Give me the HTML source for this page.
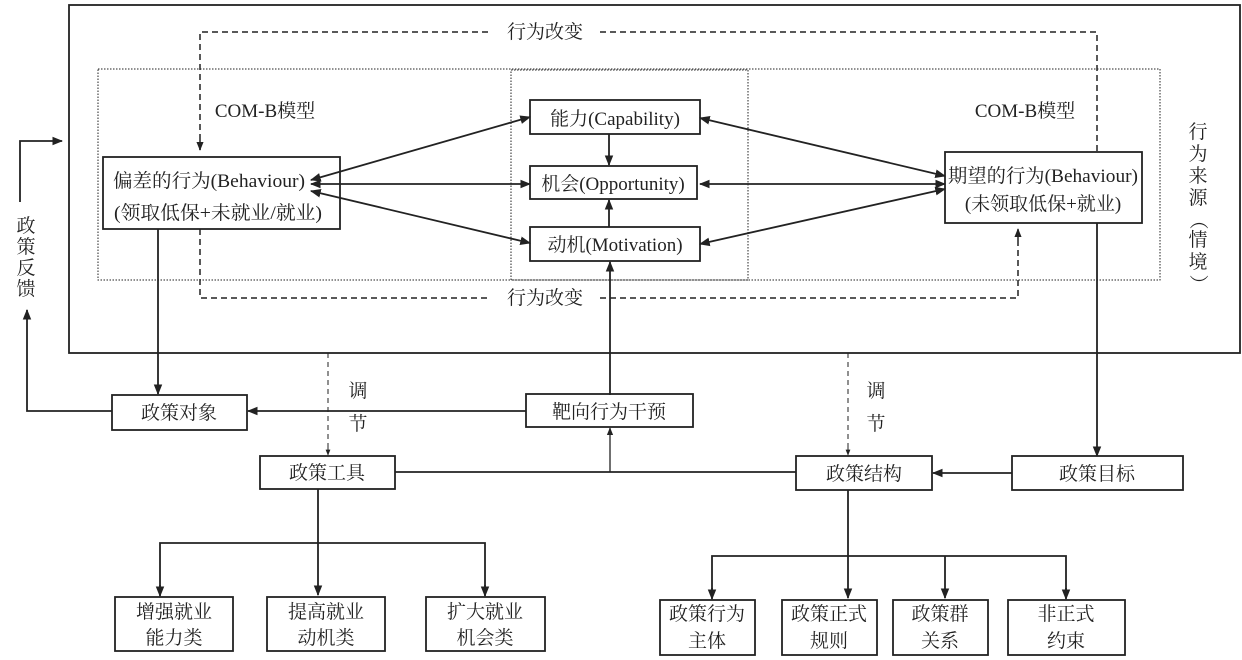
<!DOCTYPE html>
<html><head><meta charset="utf-8"><style>
html,body{margin:0;padding:0;background:#fff;}
svg{display:block;}
text{font-family:"Liberation Serif","Noto Serif CJK SC","Noto Sans CJK SC",serif;fill:#222;}
</style></head><body>
<svg width="1242" height="660" viewBox="0 0 1242 660" xmlns="http://www.w3.org/2000/svg">
<defs>
<marker id="a" viewBox="0 0 10 10" refX="9" refY="5" markerWidth="6" markerHeight="6" orient="auto-start-reverse"><path d="M0,1 L10,5 L0,9 z" fill="#222"/></marker>
</defs>
<g stroke="#222" fill="none" stroke-width="1.8">
<rect x="69" y="5" width="1171" height="348"/>
<rect x="98" y="69" width="1062" height="211" stroke-dasharray="1.5,1.5" stroke-width="1"/>
<rect x="511" y="70" width="237" height="210" stroke-dasharray="1.5,1.5" stroke-width="1"/>
<path d="M200,150 V32 H490 M600,32 H1097 V152" stroke-dasharray="6,4" stroke-width="1.5"/>
<path d="M200,140 V150" marker-end="url(#a)" stroke-width="1.5"/>
<path d="M200,229 V298 H490 M600,298 H1018 V230" stroke-dasharray="6,4" stroke-width="1.5"/>
<path d="M1018,240 V229" marker-end="url(#a)" stroke-width="1.5"/>
<rect x="103" y="157" width="237" height="72"/>
<rect x="530" y="100" width="170" height="34"/>
<rect x="530" y="166" width="167" height="33"/>
<rect x="530" y="227" width="170" height="34"/>
<rect x="945" y="152" width="197" height="71"/>
<path d="M311,180 L530,117" marker-start="url(#a)" marker-end="url(#a)"/>
<path d="M311,184 L530,184" marker-start="url(#a)" marker-end="url(#a)"/>
<path d="M311,191 L530,243" marker-start="url(#a)" marker-end="url(#a)"/>
<path d="M700,118 L945,176" marker-start="url(#a)" marker-end="url(#a)"/>
<path d="M700,184 L945,184" marker-start="url(#a)" marker-end="url(#a)"/>
<path d="M700,244 L945,189" marker-start="url(#a)" marker-end="url(#a)"/>
<path d="M609,134 V165" marker-end="url(#a)"/>
<path d="M609,227 V200" marker-end="url(#a)"/>
<path d="M610,395 V262" marker-end="url(#a)"/>
<path d="M158,229 V394" marker-end="url(#a)"/>
<path d="M1097,223 V456" marker-end="url(#a)"/>
<path d="M112,411 H27 V310" marker-end="url(#a)"/>
<path d="M20,202 V141 H62" marker-end="url(#a)"/>
<rect x="112" y="395" width="135" height="35"/>
<rect x="526" y="394" width="167" height="33"/>
<rect x="260" y="456" width="135" height="33"/>
<rect x="796" y="456" width="136" height="34"/>
<rect x="1012" y="456" width="171" height="34"/>
<path d="M526,411 H248" marker-end="url(#a)"/>
<path d="M328,353 V455" stroke-dasharray="5,4" stroke-width="1"/>
<path d="M328,448 V455" marker-end="url(#a)" stroke-width="1"/>
<path d="M848,353 V455" stroke-dasharray="5,4" stroke-width="1"/>
<path d="M848,448 V455" marker-end="url(#a)" stroke-width="1"/>
<path d="M395,472 H796"/>
<path d="M610,472 V428" marker-end="url(#a)" stroke-width="1.3"/>
<path d="M1012,473 H933" marker-end="url(#a)"/>
<path d="M318,489 V595" marker-end="url(#a)"/>
<path d="M160,595 V543 H485 V595" />
<path d="M160,585 V596" marker-end="url(#a)"/>
<path d="M485,585 V596" marker-end="url(#a)"/>
<rect x="115" y="597" width="118" height="54"/>
<rect x="267" y="597" width="118" height="54"/>
<rect x="426" y="597" width="119" height="54"/>
<path d="M848,490 V598" marker-end="url(#a)"/>
<path d="M712,598 V556 H1066 V598"/>
<path d="M945,556 V598" marker-end="url(#a)"/>
<path d="M712,588 V599" marker-end="url(#a)"/>
<path d="M1066,588 V599" marker-end="url(#a)"/>
<rect x="660" y="600" width="95" height="55"/>
<rect x="782" y="600" width="95" height="55"/>
<rect x="893" y="600" width="95" height="55"/>
<rect x="1008" y="600" width="117" height="55"/>
</g>
<g font-size="19" text-anchor="middle">
<text x="545" y="38">行为改变</text>
<text x="545" y="304">行为改变</text>
<text x="265" y="117">COM-B模型</text>
<text x="1025" y="117">COM-B模型</text>
<text x="209" y="187" textLength="192" lengthAdjust="spacingAndGlyphs">偏差的行为(Behaviour)</text>
<text x="218" y="219" textLength="208" lengthAdjust="spacingAndGlyphs">(领取低保+未就业/就业)</text>
<text x="615" y="125">能力(Capability)</text>
<text x="613" y="190">机会(Opportunity)</text>
<text x="615" y="251">动机(Motivation)</text>
<text x="1043" y="182" textLength="190" lengthAdjust="spacingAndGlyphs">期望的行为(Behaviour)</text>
<text x="1043" y="210">(未领取低保+就业)</text>
<text x="179" y="419">政策对象</text>
<text x="609" y="418">靶向行为干预</text>
<text x="327" y="479">政策工具</text>
<text x="864" y="480">政策结构</text>
<text x="1097" y="480">政策目标</text>
<text x="174" y="618">增强就业</text><text x="174" y="644">能力类</text>
<text x="326" y="618">提高就业</text><text x="326" y="644">动机类</text>
<text x="485" y="618">扩大就业</text><text x="485" y="644">机会类</text>
<text x="707" y="620">政策行为</text><text x="707" y="647">主体</text>
<text x="829" y="620">政策正式</text><text x="829" y="647">规则</text>
<text x="940" y="620">政策群</text><text x="940" y="647">关系</text>
<text x="1066" y="620">非正式</text><text x="1066" y="647">约束</text>
<text x="358" y="397">调</text><text x="358" y="430">节</text>
<text x="876" y="397">调</text><text x="876" y="430">节</text>
<text x="26" y="232">政</text><text x="26" y="253">策</text><text x="26" y="274">反</text><text x="26" y="295">馈</text>
<text x="1198" y="138">行</text><text x="1198" y="160">为</text><text x="1198" y="182">来</text><text x="1198" y="204">源</text>
<text x="1198" y="226" transform="rotate(90 1198 220)">（</text>
<text x="1198" y="246">情</text><text x="1198" y="268">境</text>
<text x="1198" y="290" transform="rotate(90 1198 284)">）</text>
</g>
</svg>
</body></html>
